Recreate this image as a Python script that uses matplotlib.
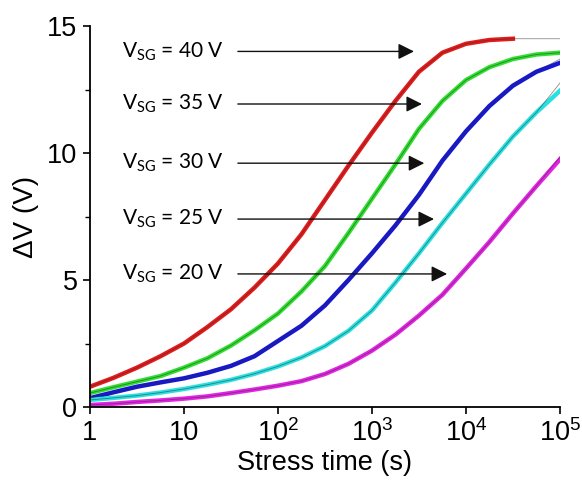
import numpy as np
import matplotlib.pyplot as plt
from matplotlib.ticker import MultipleLocator, FixedLocator, LogLocator, NullFormatter

plt.rcParams['font.family'] = ['Liberation Sans', 'DejaVu Sans']
plt.rcParams['mathtext.default'] = 'regular'

# valores: log10(t) y Delta V
logt = [0, 0.25, 0.5, 0.75, 1.0, 1.25, 1.5, 1.75, 2.0, 2.25, 2.5,
        2.75, 3.0, 3.25, 3.5, 3.75, 4.0, 4.25, 4.5, 4.75, 5.0]

dv_40 = [0.8, 1.15, 1.55, 2.0, 2.5, 3.15, 3.85, 4.7, 5.65, 6.8, 8.15,
         9.5, 10.8, 12.05, 13.2, 13.95, 14.3, 14.45, 14.5]
dv_35 = [0.55, 0.78, 1.0, 1.22, 1.55, 1.92, 2.42, 3.02, 3.68, 4.55, 5.55,
         6.85, 8.2, 9.55, 10.95, 12.05, 12.87, 13.38, 13.7, 13.88, 13.95]
dv_30 = [0.35, 0.58, 0.8, 0.97, 1.13, 1.35, 1.62, 2.0, 2.6, 3.2, 4.0,
         5.0, 6.05, 7.15, 8.35, 9.7, 10.85, 11.85, 12.65, 13.2, 13.55]
dv_25 = [0.28, 0.36, 0.45, 0.57, 0.71, 0.88, 1.07, 1.31, 1.6, 1.95, 2.4,
         3.0, 3.8, 4.9, 6.05, 7.25, 8.4, 9.55, 10.65, 11.6, 12.45]
dv_20 = [0.08, 0.13, 0.2, 0.26, 0.33, 0.42, 0.55, 0.69, 0.84, 1.02, 1.3,
         1.7, 2.22, 2.85, 3.6, 4.42, 5.45, 6.5, 7.62, 8.7, 9.75]

# valor del ajuste (linea negra) en t = 1e5
fit_end = [14.5, 13.95, 13.7, 12.75, 9.84]

series = [dv_40, dv_35, dv_30, dv_25, dv_20]
colores = ['#e61a1a', '#2ee02e', '#1616d6', '#28e0e0', '#e424e4']

etiquetas = ['40', '35', '30', '25', '20']
flecha_y = [14.0, 11.93, 9.6, 7.4, 5.24]
flecha_fin = [3000, 3650, 3860, 4900, 6760]

fig = plt.figure(figsize=(5.82, 4.91), dpi=100)
ax = fig.add_axes([0.1546, 0.171, 0.8074, 0.776])

for dv, c, fe in zip(series, colores, fit_end):
    t = 10 ** np.array(logt[:len(dv)])
    ax.plot(t, dv, color=c, lw=3.2, solid_joinstyle='round', zorder=2)
    tf = 10 ** np.array(logt)
    yf = list(dv[:len(logt) - 1]) + [fe]
    if len(dv) < len(logt):
        tf = np.append(t, 1e5)
        yf = list(dv) + [fe]
    ax.plot(tf, yf, color='#303030', lw=0.6, alpha=0.55, zorder=3)

for lab, yy, xe in zip(etiquetas, flecha_y, flecha_fin):
    ax.text(2.2, yy, 'V$_{SG}$ = ' + lab + ' V', fontsize=15, family=['Lato', 'DejaVu Sans'],
            va='center', ha='left')
    ax.annotate('', xy=(xe, yy), xytext=(35, yy),
                arrowprops=dict(arrowstyle='-|>,head_length=0.6,head_width=0.3',
                                color='#111111', lw=1.0, mutation_scale=16))

ax.set_xscale('log')
ax.set_xlim(1, 1e5)
ax.set_ylim(0, 15)
ax.xaxis.set_major_locator(FixedLocator([1, 10, 1e2, 1e3, 1e4, 1e5]))
ax.set_xticklabels(['1', '10', '$10^2$', '$10^3$', '$10^4$', '$10^5$'])
ax.xaxis.set_minor_locator(LogLocator(base=10, subs=np.arange(2, 10)))
ax.xaxis.set_minor_formatter(NullFormatter())
ax.yaxis.set_major_locator(MultipleLocator(5))
ax.yaxis.set_minor_locator(MultipleLocator(2.5))

for s in ['top', 'right']:
    ax.spines[s].set_visible(False)
for s in ['left', 'bottom']:
    ax.spines[s].set_linewidth(1.3)

ax.tick_params(which='major', direction='out', length=5, width=1.2, labelsize=19.5, pad=4)
ax.tick_params(which='minor', direction='out', length=3.5, width=1.0)

ax.set_xlabel('Stress time (s)', fontsize=19.5, labelpad=2)
ax.set_ylabel('ΔV (V)', fontsize=20, labelpad=6)

fig.savefig('out.png', dpi=100)
